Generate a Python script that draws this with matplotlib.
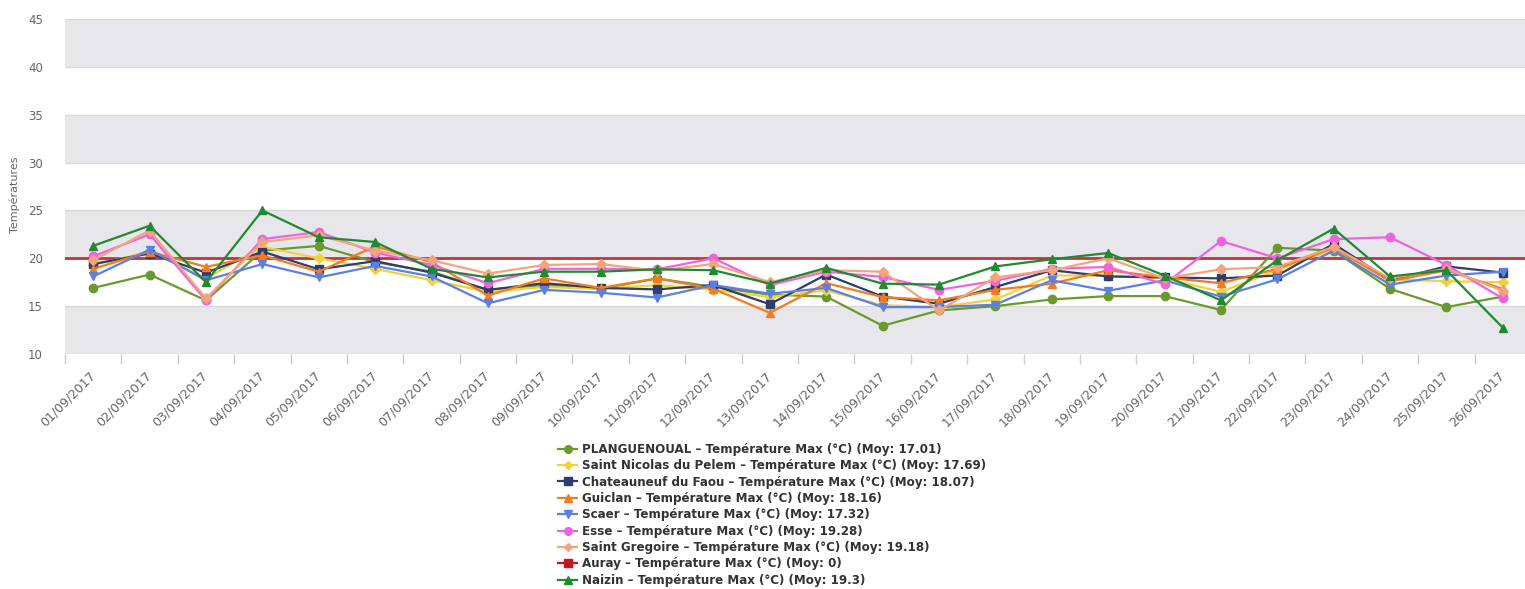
#!/usr/bin/env python3
"""
Daily max temperatures, September 2017, for the weather stations.

Recreates the Highcharts-style line chart: alternating grey bands,
a red reference line at 20 °C and a single-column legend below.
"""

import matplotlib
matplotlib.use("Agg")
import matplotlib.pyplot as plt
from matplotlib.lines import Line2D
from matplotlib.ticker import FixedLocator

DATES = [f"{d:02d}/09/2017" for d in range(1, 27)]

PLANGUENOUAL = [16.9, 18.3, 15.6, 20.8, 21.3, 19.6, 18.6, 16.7, 17.2, 16.8, 17.9, 17.0, 16.2,
                16.0, 12.95, 14.55, 15.0, 15.7, 16.05, 16.05, 14.6, 21.1, 20.8, 16.8, 14.9, 16.0]
SAINT_NICOLAS = [19.3, 20.7, 17.9, 21.2, 20.0, 18.9, 17.7, 16.5, 17.0, 16.8, 17.2, 16.7, 15.95,
                 16.65, 15.1, 14.9, 15.7, 18.2, 18.2, 17.9, 16.5, 18.75, 21.0, 17.8, 17.6, 17.5]
CHATEAUNEUF = [19.4, 20.5, 18.5, 20.7, 18.85, 19.7, 18.5, 16.7, 17.4, 16.9, 16.75, 17.2, 15.2,
               18.3, 16.0, 15.25, 17.0, 18.75, 18.1, 18.0, 17.9, 18.2, 21.5, 17.7, 19.15, 18.5]
GUICLAN = [18.9, 20.7, 19.1, 20.3, 18.6, 21.25, 19.6, 16.1, 17.9, 16.9, 17.9, 16.8, 14.3,
           17.4, 15.95, 15.6, 16.7, 17.35, 18.75, 18.0, 17.4, 18.9, 21.1, 17.6, 18.75, 16.8]
SCAER = [18.1, 20.9, 17.7, 19.4, 18.0, 19.2, 18.1, 15.3, 16.7, 16.4, 15.9, 17.2, 16.3,
         16.9, 14.9, 14.9, 15.15, 17.7, 16.6, 17.7, 16.0, 17.8, 20.8, 17.25, 18.2, 18.6]
ESSE = [20.2, 22.5, 15.6, 22.0, 22.75, 20.6, 19.3, 17.4, 18.9, 18.9, 18.85, 20.0, 17.2,
        18.6, 18.05, 16.7, 17.65, 18.9, 19.1, 17.3, 21.8, 20.0, 22.0, 22.2, 19.3, 15.8]
SAINT_GREGOIRE = [19.8, 22.9, 15.8, 21.7, 22.4, 20.8, 19.8, 18.4, 19.3, 19.4, 18.7, 19.4, 17.5,
                  18.75, 18.6, 14.55, 18.0, 18.75, 20.0, 17.9, 18.85, 19.1, 21.2, 17.9, 18.9, 16.6]
AURAY = []  # no data (Moy: 0)
NAIZIN = [21.3, 23.4, 17.5, 25.0, 22.2, 21.7, 18.9, 18.0, 18.6, 18.6, 18.85, 18.75, 17.35,
          19.0, 17.35, 17.25, 19.15, 19.9, 20.55, 18.2, 15.6, 19.8, 23.1, 18.1, 18.75, 12.75]

STATIONS = ["PLANGUENOUAL", "Saint Nicolas du Pelem", "Chateauneuf du Faou", "Guiclan",
            "Scaer", "Esse", "Saint Gregoire", "Auray", "Naizin"]
MEANS = ["17.01", "17.69", "18.07", "18.16", "17.32", "19.28", "19.18", "0", "19.3"]

Y_TICKS = [10, 15, 20, 25, 30, 35, 40, 45]
THRESHOLD = 20

COLORS = ["#6a9a2c", "#f2d23a", "#2e3d6e", "#f47c1c", "#5c7fe6",
          "#ef62e4", "#f4a47c", "#c8141e", "#1f8a30"]
MARKERS = ["o", "D", "s", "^", "v", "o", "D", "s", "^"]

W, H = 1525, 589


def main():
    series = [PLANGUENOUAL, SAINT_NICOLAS, CHATEAUNEUF, GUICLAN, SCAER,
              ESSE, SAINT_GREGOIRE, AURAY, NAIZIN]

    fig = plt.figure(figsize=(W / 100, H / 100), dpi=100)
    left, right, top, bottom = 65, 1531, 19, 354
    ax = fig.add_axes([left / W, 1 - bottom / H, (right - left) / W, (bottom - top) / H])

    # Alternating bands (grey on 10-15, 20-25, 30-35, 40-45)
    for lo in Y_TICKS[:-1:2]:
        ax.axhspan(lo, lo + 5, color="#e7e7eb", lw=0, zorder=0)
    for y in Y_TICKS:
        ax.axhline(y, color="#d9d9dc", lw=1, zorder=0.5)
    ax.axhline(THRESHOLD, color="#c8323c", lw=2, zorder=1)

    x = list(range(len(DATES)))
    for i, (vals, color, marker) in enumerate(zip(series, COLORS, MARKERS)):
        if not vals:
            continue
        ms = 6 if marker != "D" else 5
        ax.plot(x[:len(vals)], vals, color=color, lw=1.6, marker=marker, ms=ms,
                zorder=2 + i)

    ax.set_xlim(-0.5, len(DATES) - 0.5)
    ax.set_ylim(10, 45)
    ax.set_yticks(Y_TICKS)
    ax.set_xticks(x)
    ax.set_xticklabels(DATES, rotation=45, ha="right", va="center",
                       rotation_mode="anchor", fontsize=9, color="#666666")
    ax.xaxis.set_minor_locator(FixedLocator([i - 0.5 for i in range(len(DATES) + 1)]))
    ax.tick_params(axis="x", which="major", length=0, pad=14)
    ax.tick_params(axis="x", which="minor", length=7, color="#cccccc", width=1)
    ax.tick_params(axis="y", length=0, pad=16, labelsize=8.5, labelcolor="#666666")
    for spine in ax.spines.values():
        spine.set_visible(False)

    fig.text(15 / W, 1 - 195 / H, "Températures", rotation=90, ha="center", va="center",
             fontsize=8, color="#666666")

    handles = [Line2D([], [], color=c, lw=1.6, marker=m, ms=5.5 if m != "D" else 4.5)
               for c, m in zip(COLORS, MARKERS)]
    labels = [f"{s} – Température Max (°C) (Moy: {m})" for s, m in zip(STATIONS, MEANS)]
    fig.legend(handles, labels, loc="upper left", bbox_to_anchor=(552 / W, 1 - 437 / H),
               frameon=False, borderpad=0, handlelength=1.6, handletextpad=0.4,
               labelspacing=0.28, prop={"size": 8.6, "weight": "bold"}, labelcolor="#333333")

    fig.savefig("out.png", dpi=100, facecolor="white")
    plt.close(fig)


if __name__ == "__main__":
    main()
